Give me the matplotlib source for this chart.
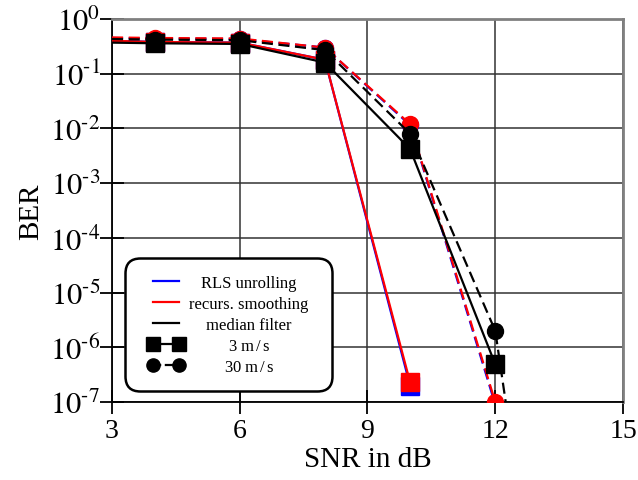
import math
import matplotlib
matplotlib.use('Agg')
import matplotlib.pyplot as plt
from matplotlib.lines import Line2D
from matplotlib.legend_handler import HandlerLine2D
from matplotlib.offsetbox import HPacker, DrawingArea
from matplotlib.ticker import FuncFormatter

plt.rcParams['font.family'] = ['Liberation Serif', 'DejaVu Serif']
plt.rcParams['mathtext.fontset'] = 'stix'

# SNR points (markers drawn from index 1 on)
snr = [3, 4, 6, 8, 10, 12, 13]

# 3 m/s (solid, squares)
rls_3 = [0.40, 0.38, 0.37, 0.18, 2.0e-7, None, None]
rec_3 = [0.40, 0.38, 0.37, 0.18, 2.3e-7, None, None]
med_3 = [0.37, 0.36, 0.35, 0.16, 4.2e-3, 4.9e-7, None]

# 30 m/s (dashed, circles)
rls_30 = [0.45, 0.44, 0.43, 0.30, 1.15e-2, 9e-8, None]
rec_30 = [0.46, 0.45, 0.44, 0.30, 1.2e-2, 1.0e-7, None]
med_30 = [0.43, 0.42, 0.41, 0.27, 8.0e-3, 2.0e-6, 1e-11]

colors = {'rls': '#0000ff', 'rec': '#ff0000', 'med': '#000000'}


def clean(xs, ys):
    pts = [(x, y) for x, y in zip(xs, ys) if y is not None]
    return [p[0] for p in pts], [p[1] for p in pts]


def exp_fmt(v, pos):
    k = int(round(math.log10(v)))
    return r'$\mathrm{10}^{\text{%d}}$' % k


fig = plt.figure(figsize=(6.38, 4.81), dpi=100)
ax = fig.add_axes([112 / 638, 1 - 403 / 481, 511 / 638, 383 / 481])

series = [
    (rls_3, 'rls', '-', 's'), (rec_3, 'rec', '-', 's'),
    (rls_30, 'rls', '--', 'o'), (rec_30, 'rec', '--', 'o'),
    (med_3, 'med', '-', 's'), (med_30, 'med', '--', 'o'),
]
for ys, key, ls, mk in series:
    xs, vals = clean(snr, ys)
    line, = ax.plot(xs, vals, color=colors[key], linestyle=ls, lw=1.6,
                    marker=mk, markersize=11.5 if mk == 'o' else 12.5,
                    markevery=list(range(1, len(xs) - (1 if len(xs) == 7 else 0))),
                    zorder=3)
    if ls == '--':
        line.set_dashes((5, 2.5))

ax.set_yscale('log')
ax.set_xlim(3, 15)
ax.set_ylim(1e-7, 1)
ax.set_xticks([3, 6, 9, 12, 15])
ax.set_yticks([10.0 ** k for k in range(-7, 1)])
ax.yaxis.set_major_formatter(FuncFormatter(exp_fmt))
ax.minorticks_off()
ax.tick_params(direction='inout', length=17, width=1.3)
ax.tick_params(axis='x', labelsize=20, pad=3)
ax.tick_params(axis='y', labelsize=22, pad=0)
ax.grid(True, color='#333333', lw=1.1)

for s in ['left', 'bottom']:
    ax.spines[s].set_color('black')
    ax.spines[s].set_linewidth(1.3)
for s in ['top', 'right']:
    ax.spines[s].set_color('#808080')
    ax.spines[s].set_linewidth(2)

ax.set_xlabel('SNR in dB', fontsize=21, labelpad=2)
ax.set_ylabel('BER', fontsize=21, labelpad=4)

handles = [
    Line2D([], [], color=colors['rls'], lw=1.6),
    Line2D([], [], color=colors['rec'], lw=1.6),
    Line2D([], [], color=colors['med'], lw=1.6),
    Line2D([], [], color='black', lw=1.6, marker='s', markersize=9.5),
    Line2D([], [], color='black', lw=1.6, ls='--', marker='o', markersize=9.5),
]
labels = ['RLS unrolling', 'recurs. smoothing', 'median filter',
          r'3 m$\,$/$\,$s', r'30 m$\,$/$\,$s']
leg = ax.legend(handles, labels, loc='lower left', bbox_to_anchor=(0.025, 0.028),
                borderaxespad=0, fontsize=12, numpoints=2, handlelength=1.6,
                labelspacing=0.3, fancybox=True, framealpha=1, edgecolor='black',
                borderpad=1.0, handletextpad=0.6,
                handler_map={Line2D: HandlerLine2D(marker_pad=0)})
leg.get_frame().set_linewidth(1.8)
leg.get_frame().set_boxstyle('round', pad=0, rounding_size=0.9)
leg.set_zorder(5)

# centre the label texts in the legend column, widen the side margins
fig.canvas.draw()
renderer = fig.canvas.get_renderer()
widths = [t.get_window_extent(renderer).width * 72 / fig.dpi for t in leg.get_texts()]
maxw = max(widths)
col = leg._legend_handle_box.get_children()[0]
for row, w in zip(col.get_children(), widths):
    kids = row.get_children()
    side = (maxw - w) / 2
    kids[0] = HPacker(children=[DrawingArea(8, 0), kids[0]], align='baseline', pad=0, sep=0)
    kids[1] = HPacker(children=[DrawingArea(side, 0), kids[1], DrawingArea(side + 5, 0)],
                      align='baseline', pad=0, sep=0)

fig.savefig('out.png', dpi=100)
